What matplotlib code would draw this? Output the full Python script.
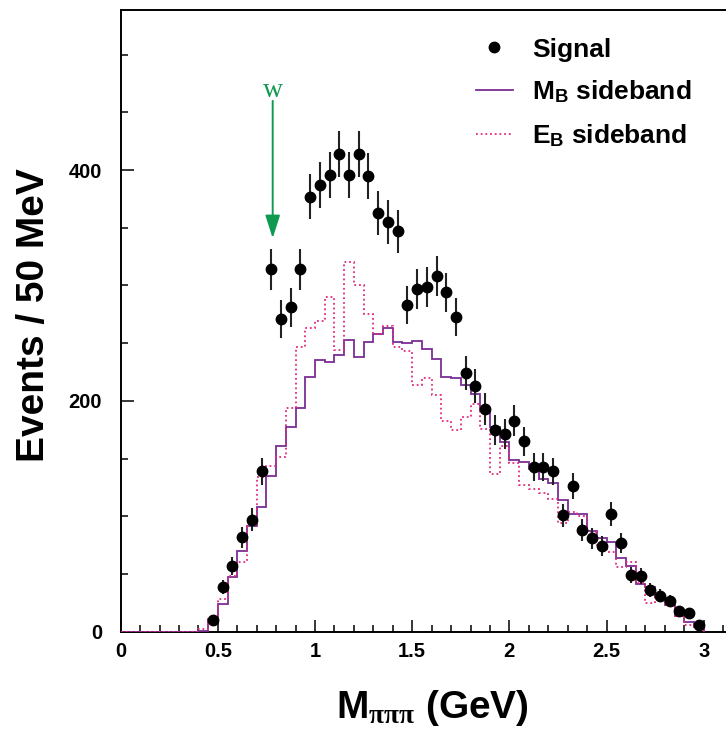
import matplotlib
matplotlib.use("Agg")
import matplotlib.pyplot as plt
from matplotlib.lines import Line2D
from matplotlib.ticker import MultipleLocator, FixedLocator
import numpy as np

plt.rcParams['font.family'] = ['Liberation Sans', 'DejaVu Sans']
plt.rcParams['font.weight'] = 'bold'
plt.rcParams['axes.labelweight'] = 'bold'
plt.rcParams['mathtext.fontset'] = 'custom'
plt.rcParams['mathtext.rm'] = 'Liberation Sans:bold'
plt.rcParams['mathtext.bf'] = 'Liberation Sans:bold'
plt.rcParams['mathtext.it'] = 'Liberation Serif'

# 3-pion invariant mass, 50 MeV bins from 0 to 3 GeV
bin_edges = np.arange(0, 3.0001, 0.05)

# signal events per bin, first bin centred at 0.475 GeV
signal = [10, 39, 57, 82, 97, 139, 314, 271, 281, 314,
          377, 387, 396, 414, 396, 414, 395, 363, 355, 347,
          283, 297, 299, 308, 294, 273, 224, 213, 193, 175,
          171, 183, 165, 143, 143, 139, 101, 126, 88, 81,
          74, 102, 77, 49, 48, 36, 31, 27, 18, 16, 6]
signal_err = [3.2, 6.2, 7.5, 9.1, 9.8, 11.8, 17.7, 16.5, 16.8, 17.7,
              19.4, 19.7, 19.9, 20.3, 19.9, 20.3, 19.9, 19.1, 18.8, 18.6,
              16.8, 17.2, 17.3, 17.5, 17.1, 16.5, 15.0, 14.6, 13.9, 13.2,
              13.1, 13.5, 12.8, 12.0, 12.0, 11.8, 10.0, 11.2, 9.4, 9.0,
              8.6, 10.1, 8.8, 7.0, 6.9, 6.0, 5.6, 5.2, 4.2, 4.0, 2.4]

# sidebands, bins 0.0-0.4 GeV are empty
mb_sideband = [0] * 8 + [
    1, 10, 24, 47, 70, 92, 108, 135, 161, 177,
    194, 221, 235, 234, 240, 253, 238, 251, 258, 263,
    251, 250, 252, 245, 236, 221, 220, 214, 206, 192,
    177, 164, 149, 147, 141, 132, 129, 114, 102, 102,
    87, 81, 78, 64, 57, 41, 39, 30, 23, 14, 8, 4]
eb_sideband = [0] * 8 + [
    2, 11, 28, 48, 60, 93, 134, 144, 151, 194,
    247, 263, 269, 290, 244, 320, 300, 275, 258, 265,
    247, 243, 214, 220, 205, 183, 175, 186, 197, 176,
    137, 161, 146, 127, 124, 120, 115, 94, 104, 100,
    86, 75, 69, 56, 60, 42, 25, 31, 23, 14, 6, 5]

x_ticks = [0, 0.5, 1, 1.5, 2, 2.5, 3]
x_ticklabels = ['0', '0.5', '1', '1.5', '2', '2.5', '3']
y_ticks = [0, 200, 400]

omega_mass = 0.782

centers = 0.5 * (bin_edges[:-1] + bin_edges[1:])
sig_x = centers[-len(signal):]

purple = '#7a2e92'
pink = '#e3287f'
green = '#0f9a50'

fig = plt.figure(figsize=(7.26, 7.34), dpi=100)
ax = fig.add_axes([0.1663, 0.1394, 0.8565, 0.8474])

ax.stairs(mb_sideband, bin_edges, color=purple, lw=1.3, zorder=3)
ax.stairs(eb_sideband, bin_edges, color=pink, lw=1.3, linestyle=(0, (1.0, 1.6)), zorder=3)
ax.errorbar(sig_x, signal, yerr=signal_err, fmt='o', color='black', ecolor='#222222',
            ms=7.5, elinewidth=1.5, capsize=0, zorder=5)

# omega arrow
ax.annotate('', xy=(omega_mass, 341), xytext=(omega_mass, 460),
            arrowprops=dict(arrowstyle='-|>,head_length=1.4,head_width=0.45',
                            color=green, lw=1.4, mutation_scale=10, shrinkA=0, shrinkB=0))
ax.text(omega_mass, 469, 'w', color=green, fontsize=20, family='Liberation Serif',
        fontweight='normal', ha='center', va='center')

ax.set_xlim(0, 3.2)
ax.set_ylim(0, 539)

ax.xaxis.set_major_locator(FixedLocator(x_ticks))
ax.set_xticklabels(x_ticklabels)
ax.xaxis.set_minor_locator(MultipleLocator(0.1))
ax.yaxis.set_major_locator(FixedLocator(y_ticks))
ax.yaxis.set_minor_locator(MultipleLocator(50))

ax.tick_params(which='both', direction='in', top=False, right=False, width=1.1)
ax.tick_params(which='major', length=9, labelsize=14.5)
ax.tick_params(axis='y', which='major', pad=13.5)
ax.tick_params(axis='x', which='major', pad=7.5)
ax.tick_params(which='minor', length=4.8)
for side in ['left', 'bottom', 'top']:
    ax.spines[side].set_linewidth(1.4)

ax.set_xlabel(r'M$_{\pi\pi\pi}$ (GeV)', fontsize=28, fontweight='bold', va='center')
ax.xaxis.set_label_coords(0.502, -0.123)
ax.set_ylabel('Events / 50 MeV', fontsize=28, fontweight='bold', va='center')
ax.yaxis.set_label_coords(-0.1394, 0.509)

handles = [
    Line2D([], [], marker='o', ls='none', color='black', ms=7.5),
    Line2D([], [], color=purple, lw=1.3),
    Line2D([], [], color=pink, lw=1.3, linestyle=(0, (1.0, 1.6))),
]
labels = ['Signal', r'M$_\mathbf{B}$ sideband', r'E$_\mathbf{B}$ sideband']
ax.legend(handles, labels, loc='upper left', bbox_to_anchor=(0.571, 0.955),
          frameon=False, fontsize=19, handlelength=1.4, handletextpad=0.72,
          labelspacing=0.64, borderpad=0, borderaxespad=0)

fig.savefig('out.png', dpi=100)
